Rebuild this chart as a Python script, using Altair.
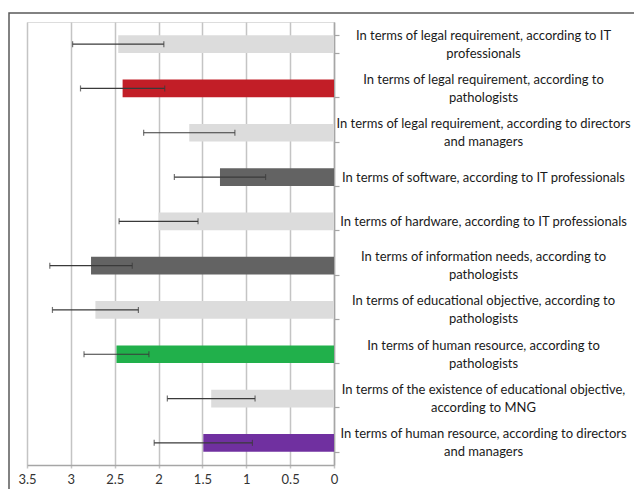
import altair as alt
import pandas as pd

categories = [
    "In terms of legal requirement, according to IT|professionals",
    "In terms of legal requirement, according to|pathologists",
    "In terms of legal requirement, according to directors|and managers",
    "In terms of software, according to IT professionals",
    "In terms of hardware, according to IT professionals",
    "In terms of information needs, according to|pathologists",
    "In terms of educational objective, according to|pathologists",
    "In terms of human resource, according to|pathologists",
    "In terms of the existence of educational objective,|according to MNG",
    "In terms of human resource, according to directors|and managers",
]
means = [2.46, 2.41, 1.65, 1.30, 2.00, 2.77, 2.72, 2.48, 1.40, 1.49]
errors = [0.52, 0.48, 0.52, 0.52, 0.45, 0.47, 0.49, 0.37, 0.50, 0.56]
bar_colors = ["#dcdcdc", "#c21e27", "#dcdcdc", "#636363", "#dcdcdc",
              "#636363", "#dcdcdc", "#21b04b", "#dcdcdc", "#7030a0"]
tick_values = [0, 0.5, 1, 1.5, 2, 2.5, 3, 3.5]

df = pd.DataFrame({"cat": categories, "mean": means, "err": errors, "color": bar_colors})
df["lo"] = df["mean"] - df["err"]
df["hi"] = df["mean"] + df["err"]

FONT = "Lato"

xscale = alt.Scale(domain=[0, 3.5], reverse=True, nice=False, zero=True)
yscale = alt.Scale(domain=categories, paddingInner=0.6, paddingOuter=0.3)

# two-line labels: [line1, spacer, line2]; one-line labels: [spacer, text]  (half-line spacing)
SPACER = "\u200b"
label_expr = ("indexof(datum.label, '|') >= 0 ? "
              "[split(datum.label, '|')[0], '" + SPACER + "', split(datum.label, '|')[1]] : "
              "['" + SPACER + "', datum.label]")

base = alt.Chart(df)

bars = base.mark_bar().encode(
    x=alt.X("mean:Q", scale=xscale,
            axis=alt.Axis(values=tick_values, format="~g", title=None, grid=True,
                          gridColor="#c4c4c4", gridWidth=1.5, ticks=True, tickSize=3,
                          tickColor="#c4c4c4", tickWidth=1.5,
                          domainColor="#a6a6a6", domainWidth=1.5, labelPadding=5,
                          labelFlush=False,
                          labelFont=FONT, labelFontSize=13, labelColor="#333333")),
    y=alt.Y("cat:N", scale=yscale, sort=None,
            axis=alt.Axis(orient="right", title=None, tickBand="extent", tickSize=5,
                          tickColor="#a6a6a6", tickWidth=1.2, domainColor="#a6a6a6",
                          domainWidth=1.5, labelAlign="center", labelBaseline="middle",
                          labelOffset=-9,
                          labelPadding=144, labelLimit=400, labelOverlap=False,
                          labelExpr=label_expr, labelLineHeight=9,
                          labelFont=FONT, labelFontSize=13, labelColor="#1a1a1a")),
    color=alt.Color("color:N", scale=None),
)

rules = base.mark_rule(color="#3a3a3a", strokeWidth=1.2).encode(
    x="lo:Q", x2="hi:Q", y=alt.Y("cat:N", sort=None)
)
cap_lo = base.mark_tick(color="#3a3a3a", thickness=1.2, size=6).encode(
    x="lo:Q", y=alt.Y("cat:N", sort=None)
)
cap_hi = base.mark_tick(color="#3a3a3a", thickness=1.2, size=6).encode(
    x="hi:Q", y=alt.Y("cat:N", sort=None)
)

frame = alt.Chart(pd.DataFrame({"a": [0]})).mark_rect(
    fill="transparent", stroke="#595959", strokeWidth=1.5
).encode(x=alt.value(-18), x2=alt.value(900), y=alt.value(-9), y2=alt.value(800))

chart = alt.layer(bars, rules, cap_lo, cap_hi, frame).properties(
    width=307, height=443,
    padding={"left": 19, "top": 14, "right": 300, "bottom": 24},
    autosize=alt.AutoSizeParams(type="none"),
).configure_view(stroke=None).configure(background="white")

chart.save("out.html", embed_options={"renderer": "svg", "actions": False})
